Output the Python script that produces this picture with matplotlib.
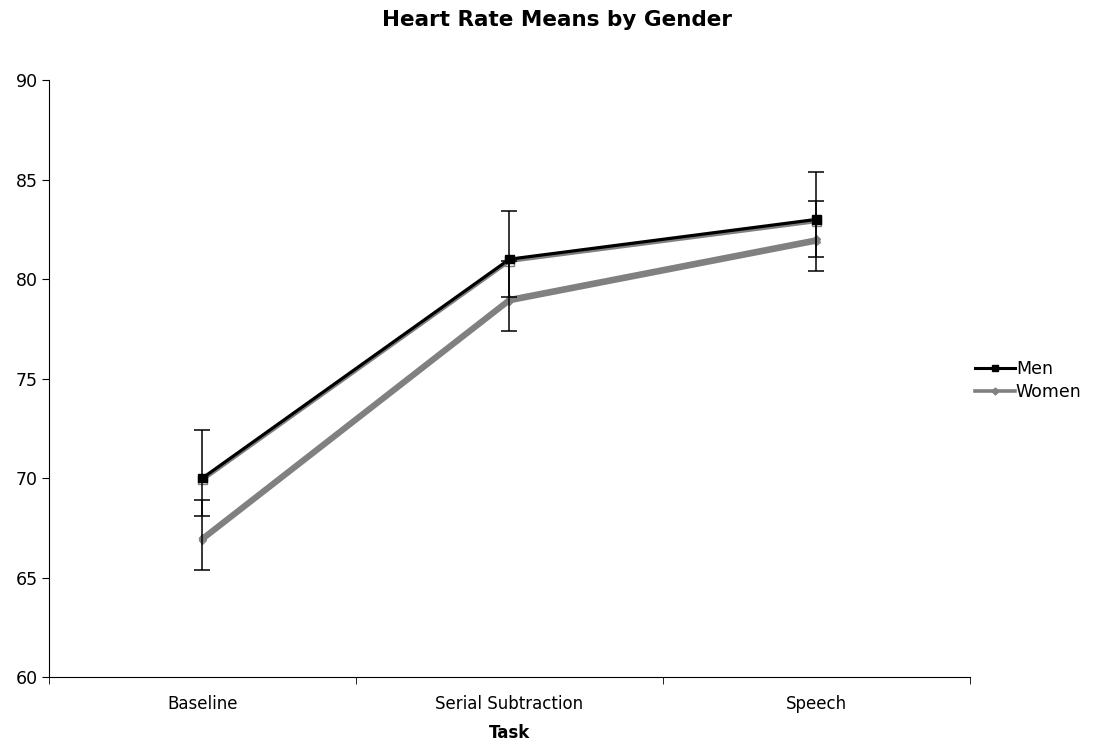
import numpy as np
import matplotlib.pyplot as plt
import matplotlib.patheffects as pe
from matplotlib.lines import Line2D

tasks = ['Baseline', 'Serial Subtraction', 'Speech']
men = [70, 81, 83]
women = [67, 79, 82]
men_err_lo = [1.9, 1.9, 1.9]
men_err_hi = [2.4, 2.4, 2.4]
women_err_lo = [1.6, 1.6, 1.6]
women_err_hi = [1.9, 1.9, 1.9]

plt.rcParams['font.family'] = ['DejaVu Sans']
fig = plt.figure(figsize=(11.13, 7.42), dpi=100)
ax = fig.add_axes([0.044, 0.0876, 0.8275, 0.8044])
x = np.arange(len(tasks))

shadow = [pe.SimpleLineShadow(offset=(0, -1.6), shadow_color='#808080', alpha=1.0), pe.Normal()]
ax.plot(x, women, color='#808080', lw=3.2, marker='D', ms=4, zorder=3,
        path_effects=shadow)
ax.plot(x, men, color='black', lw=2.3, marker='s', ms=6, zorder=4,
        path_effects=shadow)

ax.errorbar(x, men, yerr=[men_err_lo, men_err_hi], fmt='none', ecolor='black',
            elinewidth=1.1, capsize=6, capthick=1.1, zorder=5)
ax.errorbar(x, women, yerr=[women_err_lo, women_err_hi], fmt='none', ecolor='black',
            elinewidth=1.1, capsize=6, capthick=1.1, zorder=5)

ax.set_xlim(-0.5, 2.5)
ax.set_ylim(60, 90)
ax.set_yticks(range(60, 91, 5))
ax.set_xticks(x)
ax.set_xticklabels(tasks)
ax.set_xticks(np.arange(-0.5, 2.6, 1), minor=True)
ax.tick_params(axis='x', which='major', length=0, labelsize=12, pad=13)
ax.tick_params(axis='x', which='minor', length=5, direction='out')
ax.tick_params(axis='y', length=5, direction='out', labelsize=12.5, pad=3)
for s in ['top', 'right']:
    ax.spines[s].set_visible(False)
ax.set_xlabel('Task', fontweight='bold', fontsize=12, labelpad=8)
fig.text(0.5, 0.973, 'Heart Rate Means by Gender', ha='center', va='center',
         fontweight='bold', fontsize=15.5)

handles = [Line2D([], [], color='black', lw=2.2, marker='s', ms=5),
           Line2D([], [], color='#808080', lw=2.6, marker='D', ms=3.5)]
fig.legend(handles, ['Men', 'Women'], loc='center left', bbox_to_anchor=(0.862, 0.487),
           frameon=False, fontsize=12.5, handlelength=2.3, handletextpad=0.05,
           labelspacing=0.3)

fig.savefig('out.png', dpi=100)
